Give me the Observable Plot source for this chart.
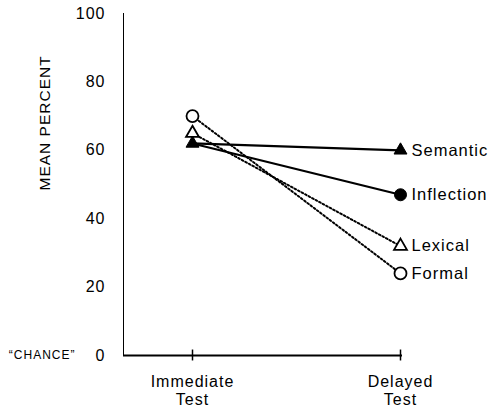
<!DOCTYPE html>
<html>
<head>
<meta charset="utf-8">
<script src="https://cdn.jsdelivr.net/npm/d3@7"></script>
<script src="https://cdn.jsdelivr.net/npm/@observablehq/plot@0.6"></script>
<style>
  html, body { margin: 0; padding: 0; background: #fff; }
  svg { font-family: "Liberation Sans", Arial, Helvetica, sans-serif; }
</style>
</head>
<body>
<div id="chart"></div>
<script>
const tests = ["Immediate", "Delayed"];
const testLabels = ["Immediate\nTest", "Delayed\nTest"];
const series = ["Semantic", "Inflection", "Lexical", "Formal"];
const immediate = [62, 62, 65, 70];
const delayed = [60, 47, 32, 24];
const symbols = ["triangle", "circle", "triangle", "circle"];
const filled = [true, true, false, false];
const dotted = [false, false, true, true];
const yTicks = [0, 20, 40, 60, 80, 100];
const yLabel = "MEAN PERCENT";
const chanceLabel = "\u201CCHANCE\u201D";

const rows = [];
series.forEach((s, i) => {
  rows.push({series: s, test: tests[0], value: immediate[i], symbol: symbols[i], filled: filled[i], dotted: dotted[i]});
  rows.push({series: s, test: tests[1], value: delayed[i], symbol: symbols[i], filled: filled[i], dotted: dotted[i]});
});
const last = rows.filter(d => d.test === tests[1]);
const rOf = d => d.symbol === "triangle" ? 4.8 : 6;
// the filled circle at the first test is hidden under the filled triangle in the original
const hidden = d => d.filled && d.symbol === "circle" && d.test === tests[0];

const chart = Plot.plot({
  width: 490,
  height: 412,
  marginLeft: 123,
  marginRight: 88,
  marginTop: 13,
  marginBottom: 57,
  style: {fontSize: "16px", fontFamily: "'Liberation Sans', Arial, Helvetica, sans-serif", background: "#fff", color: "#000"},
  x: {type: "point", domain: tests, range: [192, 400], padding: 0, axis: null},
  y: {domain: [0, 100], ticks: yTicks, tickSize: 0, tickPadding: 18, line: true, label: null},
  r: {type: "identity"},
  marks: [
    Plot.ruleY([0], {stroke: "#000", strokeWidth: 2}),
    Plot.ruleX(tests, {x: d => d, y1: -1.6, y2: 1.6, stroke: "#000", strokeWidth: 1.5}),
    Plot.line(rows.filter(d => d.dotted), {x: "test", y: "value", z: "series", stroke: "#000", strokeWidth: 2, strokeDasharray: "1.8,2.2"}),
    Plot.line(rows.filter(d => !d.dotted), {x: "test", y: "value", z: "series", stroke: "#000", strokeWidth: 2.2}),
    Plot.dot(rows.filter(d => !d.filled), {x: "test", y: "value", symbol: d => d.symbol, r: rOf, fill: "#fff", stroke: "#000", strokeWidth: 1.8}),
    Plot.dot(rows.filter(d => d.filled && d.symbol === "circle" && !hidden(d)), {x: "test", y: "value", symbol: d => d.symbol, r: rOf, fill: "#000", stroke: "#000", strokeWidth: 1}),
    Plot.dot(rows.filter(d => d.filled && d.symbol === "triangle"), {x: "test", y: "value", symbol: d => d.symbol, r: rOf, fill: "#000", stroke: "#000", strokeWidth: 1}),
    Plot.text(last, {x: "test", y: "value", text: "series", textAnchor: "start", dx: 11, fontSize: 16.5, fill: "#000", style: "letter-spacing:0.6px"}),
    Plot.text(tests, {x: d => d, y: () => 0, text: (d, i) => testLabels[i], dy: 35, lineHeight: 1.1, fontSize: 16, fill: "#000"}),
    Plot.text([yLabel], {frameAnchor: "left", rotate: -90, dx: -78, dy: 6, fontSize: 15.5, fill: "#000"}),
    Plot.text([chanceLabel], {y: () => 0, frameAnchor: "left", textAnchor: "end", dx: -48, fontSize: 12, fill: "#000", style: "letter-spacing:1.6px"})
  ]
});
chart.querySelectorAll("text").forEach(t => t.style.letterSpacing = t.style.letterSpacing || "1px");
document.getElementById("chart").appendChild(chart);
</script>
</body>
</html>
